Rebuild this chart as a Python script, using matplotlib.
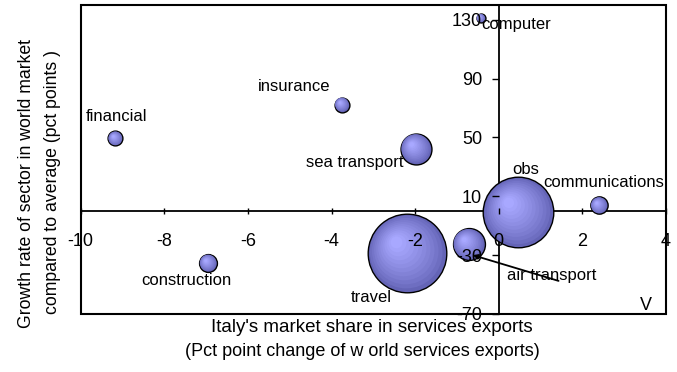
import matplotlib
matplotlib.use("Agg")
import matplotlib.pyplot as plt
import matplotlib.transforms as mtransforms
from matplotlib.patches import Rectangle
import numpy as np

plt.rcParams['font.family'] = ['Liberation Sans', 'DejaVu Sans']
plt.rcParams['axes.unicode_minus'] = False

# sectors: change in Italy's market share vs. relative growth of world sector
sectors = ["computer", "financial", "insurance", "sea transport", "obs",
           "communications", "travel", "air transport", "construction"]
share_change = [-0.43, -9.17, -3.75, -1.98, 0.47, 2.40, -2.19, -0.72, -6.95]
growth_rel = [131.1, 49.3, 72.3, 42.3, -1.0, 3.8, -28.6, -22.5, -35.4]
export_weight = [0.4, 1.1, 1.1, 4.8, 25.0, 1.5, 31.0, 5.1, 1.6]

x_ticks = [-10, -8, -6, -4, -2, 0, 2, 4]
y_ticks = [-70, -30, 10, 50, 90, 130]

# label offsets from bubble centre, in pixels (right, down)
label_off = {
    "computer": (35, 6), "financial": (1, -22), "insurance": (-48, -18),
    "sea transport": (-61, 14), "obs": (7, -43), "communications": (5, -23),
    "travel": (-36, 44), "air transport": (83, 31), "construction": (-22, 17),
}

W, H, DPI = 677, 372, 100
fig = plt.figure(figsize=(W / DPI, H / DPI), dpi=DPI)
ax = fig.add_axes([80.7 / W, 1 - 314 / H, (666 - 80.7) / W, (314 - 5) / H])
ax.set_xlim(-10, 4)
ax.set_ylim(-70, 140)

# bubbles with a radial shading, light spot towards the upper left
dark = np.array([0x64, 0x64, 0xb6]) / 255
light = np.array([0xa8, 0xa8, 0xff]) / 255
rmax_px = 39.3
vmax = max(export_weight)
for x, y, v in zip(share_change, growth_rel, export_weight):
    r = rmax_px * np.sqrt(v / vmax)
    for i, f in enumerate(np.linspace(1, 0.15, 12)):
        t = (1 - f) / 0.85
        col = dark + (light - dark) * t ** 0.8
        shift = (1 - f) * 0.32 * r
        tr = ax.transData + mtransforms.ScaledTranslation(
            -shift / DPI, shift / DPI, fig.dpi_scale_trans)
        ax.scatter([x], [y], s=(2 * r * f * 0.72) ** 2, color=col,
                   edgecolors='black' if i == 0 else 'none',
                   linewidths=1.0 if i == 0 else 0, transform=tr, zorder=2 + i * 0.01)

for name, x, y in zip(sectors, share_change, growth_rel):
    dx, dy = label_off[name]
    ax.annotate(name, (x, y), xytext=(dx * 0.72, -dy * 0.72), textcoords='offset points',
                ha='center', va='center', fontsize=12, zorder=4)

# leader line from the air transport label to its bubble
ia = sectors.index("air transport")
ax.annotate("", xy=(share_change[ia] + 0.1, growth_rel[ia] - 7.5),
            xytext=(share_change[ia] + 2.15, growth_rel[ia] - 25),
            arrowprops=dict(arrowstyle='-|>', color='black', lw=1.3,
                            mutation_scale=7, shrinkA=0, shrinkB=0), zorder=4)

# axes crossing at the origin, drawn under the bubbles
for side in ['top', 'right']:
    ax.spines[side].set_visible(False)
ax.spines['left'].set_position(('data', 0))
ax.spines['bottom'].set_position(('data', 0))
for side in ['left', 'bottom']:
    ax.spines[side].set_linewidth(1.3)
    ax.spines[side].set_zorder(0.5)
ax.add_patch(Rectangle((0, 0), 1, 1, transform=ax.transAxes, fill=False,
                       lw=1.5, edgecolor='black', clip_on=False, zorder=3))

ax.set_xticks(x_ticks)
ax.set_yticks(y_ticks)
ax.tick_params(axis='y', direction='out', length=5, width=1, pad=7, labelsize=13)
ax.tick_params(axis='x', direction='inout', length=5, width=1, pad=13, labelsize=13)
ax.xaxis.set_zorder(5)
ax.yaxis.set_zorder(5)

fig.text(646 / W, 1 - 306 / H, "V", ha='center', va='center', fontsize=13)

fig.text(372 / W, 1 - 328 / H, "Italy's market share in services exports",
         ha='center', va='center', fontsize=13.5)
fig.text(362 / W, 1 - 352 / H, "(Pct point change of w orld services exports)",
         ha='center', va='center', fontsize=13)
fig.text(27 / W, 1 - 184 / H, "Growth rate of sector in world market",
         ha='center', va='center', rotation=90, fontsize=12.7)
fig.text(53 / W, 1 - 182 / H, "compared to average (pct points )",
         ha='center', va='center', rotation=90, fontsize=12.7)

fig.savefig("out.png", dpi=DPI)
